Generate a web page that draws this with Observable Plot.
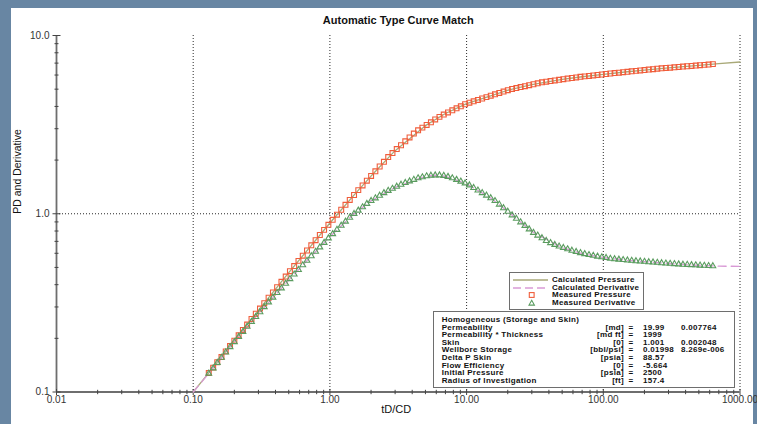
<!DOCTYPE html>
<html><head><meta charset="utf-8">
<script src="https://cdn.jsdelivr.net/npm/d3@7"></script>
<script src="https://cdn.jsdelivr.net/npm/@observablehq/plot@0.6"></script>
<style>
html,body{margin:0;padding:0;background:#6886a3;width:757px;height:424px;overflow:hidden;font-family:"Liberation Sans",Arial,sans-serif;}
#panel{position:absolute;left:11px;top:8px;width:742px;height:416px;background:#fff;}
#chart svg{overflow:visible;display:block;}
g[aria-label="title"] text{letter-spacing:0.4px;}
.box{position:absolute;background:#fff;border:1px solid #6e6e6e;box-sizing:border-box;font-weight:bold;font-size:8px;letter-spacing:0.3px;color:#111;}
.row{position:absolute;left:0;height:8px;line-height:8px;white-space:nowrap;}
.row span{position:absolute;top:0;}
</style></head>
<body>
<div id="panel"><div id="chart"></div></div>
<script>
// ---- data ----
const tD = [0.130,0.140,0.150,0.161,0.173,0.186,0.200,0.215,0.231,0.248,0.267,0.287,0.308,0.331,0.356,0.383,0.411,0.442,0.475,0.510,0.548,0.589,0.633,0.680,0.731,0.786,0.844,0.907,0.975,1.048,1.126,1.210,1.300,1.397,1.502,1.613,1.734,1.863,2.002,2.151,2.312,2.484,2.670,2.869,3.083,3.313,3.560,3.826,4.111,4.418,4.748,5.102,5.483,5.892,6.331,6.804,7.311,7.857,8.443,9.073,9.750,10.48,11.26,12.10,13.00,13.97,15.02,16.13,17.34,18.63,20.02,21.51,23.12,24.84,26.70,28.69,30.83,33.13,35.60,38.26,41.11,44.18,47.48,51.02,54.83,58.92,63.31,68.04,73.11,78.57,84.43,90.73,97.50,104.8,112.6,121.0,130.0,139.7,150.2,161.3,173.4,186.3,200.2,215.1,231.2,248.4,267.0,286.9,308.3,331.3,356.0,382.6,411.1,441.8,474.8,510.2,548.3,589.2,633.1];
const measuredPressure = [
0.128,0.137,0.147,0.157,0.169,0.181,0.194,0.208,0.223,0.239,
0.257,0.275,0.294,0.315,0.338,0.362,0.387,0.415,0.444,0.476,
0.509,0.544,0.582,0.622,0.665,0.711,0.760,0.812,0.867,0.925,
0.988,1.053,1.122,1.196,1.274,1.357,1.441,1.532,1.629,1.731,
1.841,1.957,2.081,2.191,2.305,2.423,2.549,2.680,2.819,2.939,
3.042,3.149,3.260,3.380,3.495,3.600,3.700,3.806,3.906,4.008,
4.114,4.199,4.275,4.352,4.431,4.511,4.593,4.676,4.762,4.848,
4.936,5.012,5.073,5.135,5.198,5.262,5.327,5.393,5.459,5.507,
5.552,5.596,5.641,5.685,5.730,5.776,5.821,5.861,5.898,5.933,
5.970,6.006,6.043,6.081,6.120,6.155,6.189,6.224,6.259,6.295,
6.331,6.366,6.401,6.438,6.474,6.510,6.548,6.573,6.602,6.631,
6.662,6.691,6.721,6.752,6.782,6.813,6.843,6.871,6.908];
const measuredDerivative = [
0.127,0.136,0.146,0.156,0.167,0.179,0.191,0.204,0.218,0.233,
0.248,0.264,0.281,0.300,0.319,0.339,0.360,0.382,0.406,0.431,
0.457,0.485,0.515,0.546,0.579,0.613,0.649,0.688,0.729,0.770,
0.814,0.859,0.905,0.952,1.000,1.043,1.090,1.138,1.182,1.223,
1.265,1.308,1.347,1.384,1.421,1.459,1.492,1.522,1.553,1.584,
1.606,1.626,1.639,1.645,1.645,1.635,1.613,1.584,1.552,1.518,
1.483,1.446,1.399,1.353,1.309,1.267,1.225,1.181,1.128,1.077,
1.029,0.982,0.939,0.897,0.857,0.819,0.783,0.756,0.731,0.705,
0.686,0.670,0.656,0.644,0.633,0.622,0.612,0.603,0.595,0.588,
0.582,0.576,0.571,0.566,0.560,0.557,0.554,0.551,0.548,0.546,
0.543,0.541,0.539,0.536,0.534,0.532,0.529,0.527,0.525,0.523,
0.521,0.519,0.518,0.516,0.515,0.513,0.512,0.510,0.509];
const calcT = [0.1,0.13,0.2,0.3,0.5,0.7,1,1.5,2,3,5,6,7,10,15,20,30,50,70,100,150,200,300,500,700,1000];
const calcPressure = [0.1,0.128,0.194,0.287,0.467,0.638,0.887,1.273,1.627,2.26,3.12,3.40,3.65,4.15,4.59,4.93,5.30,5.67,5.87,6.06,6.26,6.40,6.59,6.80,6.95,7.10];
const calcDerivative = [0.1,0.127,0.191,0.275,0.424,0.559,0.743,0.999,1.181,1.406,1.620,1.646,1.623,1.470,1.226,1.029,0.797,0.645,0.597,0.568,0.548,0.539,0.526,0.513,0.508,0.507];

const xMajor = [0.01,0.1,1,10,100,1000];
const xTickLabels = ["0.01","0.10","1.00","10.00","100.00","1000.00"];
const xMinor = [0.02,0.03,0.04,0.05,0.06,0.07,0.08,0.09,0.2,0.3,0.4,0.5,0.6,0.7,0.8,0.9,2,3,4,5,6,7,8,9,20,30,40,50,60,70,80,90,200,300,400,500,600,700,800,900];
const yMajor = [0.1,1,10];
const yTickLabels = ["0.1","1.0","10.0"];
const yMinor = [0.2,0.3,0.4,0.5,0.6,0.7,0.8,0.9,2,3,4,5,6,7,8,9];
const gridX = [0.1,1,10,100,1000];
const gridY = [1];

const title = "Automatic Type Curve Match";
const xLabel = "tD/CD";
const yLabel = "PD and Derivative";

const seriesNames = ["Calculated Pressure","Calculated Derivative","Measured Pressure","Measured Derivative"];
const modelName = "Homogeneous (Storage and Skin)";
const paramNames = ["Permeability","Permeability * Thickness","Skin","Wellbore Storage","Delta P Skin","Flow Efficiency","Initial Pressure","Radius of Investigation"];
const paramUnits = ["[md]","[md ft]","[0]","[bbl/psi]","[psia]","[0]","[psia]","[ft]"];
const paramValues = ["19.99","1999","1.001","0.01998","88.57","-5.664","2500","157.4"];
const paramValues2 = ["0.007764","","0.002048","8.269e-006","","","",""];

// ---- styles ----
const cPress = "#a9a978", cDeriv = "#d99ad6", cMP = "#f05d3b", cMD = "#5a9c5f";

const meas = tD.map((t,i)=>({t, p: measuredPressure[i], d: measuredDerivative[i]}));
const calc = calcT.map((t,i)=>({t, p: calcPressure[i], d: calcDerivative[i]}));

const vTick = h => ({draw(c){c.moveTo(0,-h);c.lineTo(0,h);}});
const hTick = w => ({draw(c){c.moveTo(-w,0);c.lineTo(w,0);}});

const chart = Plot.plot({
  width: 742, height: 416,
  marginLeft: 45, marginRight: 13.5, marginTop: 27, marginBottom: 32.5,
  x: {type: "log", domain: [0.01, 1000], axis: null},
  y: {type: "log", domain: [0.1, 10], axis: null},
  style: {fontFamily: "'Liberation Sans', Arial, sans-serif", fontSize: "10px", background: "transparent", overflow: "visible"},
  marks: [
    Plot.ruleX(gridX, {stroke: "#2a2a2a", strokeDasharray: "1,2", strokeWidth: 1}),
    Plot.ruleY(gridY, {stroke: "#2a2a2a", strokeDasharray: "1,2", strokeWidth: 1}),
    Plot.ruleY([yMajor[0]], {stroke: "#6e6e6e", strokeWidth: 1.8}),
    Plot.ruleX([xMajor[0]], {stroke: "#6e6e6e", strokeWidth: 1.8}),
    Plot.dot(xMinor, {x: d=>d, frameAnchor: "bottom", symbol: vTick(2.2), fill: "none", stroke: "#444", strokeWidth: 1}),
    Plot.dot(xMajor, {x: d=>d, frameAnchor: "bottom", symbol: vTick(3), fill: "none", stroke: "#444", strokeWidth: 1}),
    Plot.dot(yMinor, {y: d=>d, frameAnchor: "left", symbol: hTick(2), fill: "none", stroke: "#444", strokeWidth: 1}),
    Plot.dot(yMajor, {y: d=>d, frameAnchor: "left", symbol: hTick(4), fill: "none", stroke: "#444", strokeWidth: 1}),
    Plot.text(xMajor, {x: d=>d, text: (d,i)=>xTickLabels[i], frameAnchor: "bottom", dy: 4, lineAnchor: "top", fontSize: 10, fill: "#333"}),
    Plot.text(yMajor, {y: d=>d, text: (d,i)=>yTickLabels[i], frameAnchor: "left", dx: -7, textAnchor: "end", fontSize: 10, fill: "#333"}),
    Plot.line(calc, {x: "t", y: "p", stroke: cPress, strokeWidth: 1.3}),
    Plot.line(calc, {x: "t", y: "d", stroke: cDeriv, strokeWidth: 1.3, strokeDasharray: "8,5"}),
    Plot.dot(meas, {x: "t", y: "p", symbol: "square", r: 2.75, fill: "none", stroke: cMP, strokeWidth: 1.1}),
    Plot.dot(meas, {x: "t", y: "d", symbol: "triangle", r: 2.15, fill: "none", stroke: cMD, strokeWidth: 1.1}),
    Plot.text([title], {text: d=>d, frameAnchor: "top", dy: -19.5, fontSize: 11, fontWeight: "bold", fill: "#111", ariaLabel: "title"}),
    Plot.text([xLabel], {text: d=>d, frameAnchor: "bottom", dy: 21, dx: -2, fontSize: 11, fill: "#111"}),
    Plot.text([yLabel], {text: d=>d, frameAnchor: "left", dx: -39, rotate: -90, fontSize: 10.5, fill: "#111"})
  ]
});
document.getElementById("chart").appendChild(chart);

// ---- legends (overlaid boxes) ----
const panel = document.getElementById("panel");
const leg1 = document.createElement("div");
leg1.className = "box";
Object.assign(leg1.style, {left: "498px", top: "264px", width: "135px", height: "38px"});
const swatches = [
  `<line x1="0" x2="35" y1="4" y2="4" stroke="${cPress}" stroke-width="1.4"/>`,
  `<line x1="0" x2="35" y1="4" y2="4" stroke="${cDeriv}" stroke-width="1.4" stroke-dasharray="8,4"/>`,
  `<rect x="16.3" y="1.6" width="4.8" height="4.8" fill="none" stroke="${cMP}" stroke-width="1.1"/>`,
  `<path d="M18.7,1.3L21.4,6.1L16,6.1Z" fill="none" stroke="${cMD}" stroke-width="1.1"/>`
];
seriesNames.forEach((name, i) => {
  const r = document.createElement("div");
  r.className = "row";
  r.style.top = (3 + i * 7.6) + "px";
  r.innerHTML = `<svg width="35" height="8" style="position:absolute;left:3px;top:0;overflow:visible">${swatches[i]}</svg><span style="left:42px">${name}</span>`;
  leg1.appendChild(r);
});
panel.appendChild(leg1);

const leg2 = document.createElement("div");
leg2.className = "box";
Object.assign(leg2.style, {left: "422px", top: "303px", width: "302px", height: "77px"});
const head = document.createElement("div");
head.className = "row";
head.style.top = "4px";
head.innerHTML = `<span style="left:7.7px">${modelName}</span>`;
leg2.appendChild(head);
paramNames.forEach((name, i) => {
  const r = document.createElement("div");
  r.className = "row";
  r.style.top = (4 + (i + 1) * 7.6) + "px";
  r.style.width = "300px";
  r.innerHTML = `<span style="left:7.7px">${name}</span>` +
    `<span style="left:0;width:190px;text-align:right">${paramUnits[i]}</span>` +
    `<span style="left:194.5px">=</span>` +
    `<span style="left:209px">${paramValues[i]}</span>` +
    `<span style="left:247px">${paramValues2[i]}</span>`;
  leg2.appendChild(r);
});
panel.appendChild(leg2);
</script>
</body></html>
